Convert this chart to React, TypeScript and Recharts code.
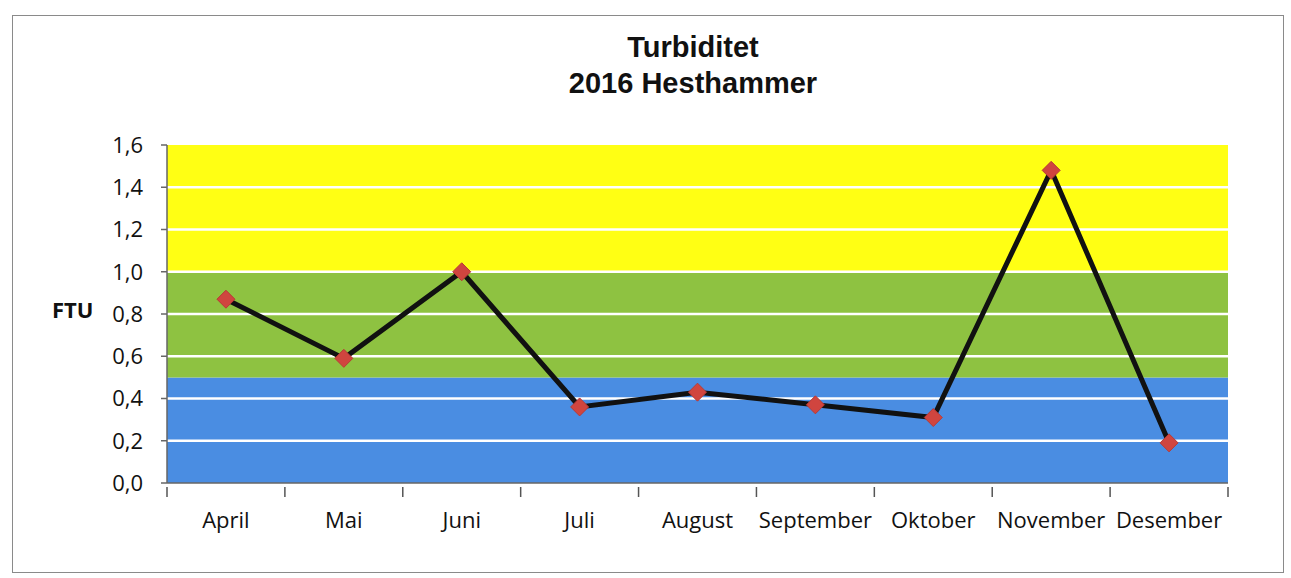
import React from "react";
import {
  LineChart,
  Line,
  XAxis,
  YAxis,
  ReferenceArea,
  ReferenceLine,
} from "recharts";

const months = ["April", "Mai", "Juni", "Juli", "August", "September", "Oktober", "November", "Desember"];
const ftu = [0.87, 0.59, 1.0, 0.36, 0.43, 0.37, 0.31, 1.48, 0.19];
const yTicks = [0, 0.2, 0.4, 0.6, 0.8, 1.0, 1.2, 1.4, 1.6];
const gridValues = [0.2, 0.4, 0.6, 0.8, 1.0, 1.2, 1.4];
const bands = [
  { from: 0, to: 0.5, color: "#4A8DE2" },
  { from: 0.5, to: 1.0, color: "#8EC241" },
  { from: 1.0, to: 1.6, color: "#FFFF14" },
];

const data = months.map((m, i) => ({ month: m, value: ftu[i] }));

const W = 1291;
const H = 578;
const M = { top: 145, right: 63, bottom: 55, left: 100 };
const YW = 67;
const plotW = W - M.left - YW - M.right;
const step = plotW / months.length;
const FONT = "'Open Sans', 'Noto Sans', sans-serif";

const Diamond = (props: any) => {
  const { cx, cy, index } = props;
  if (cx == null || cy == null) return null;
  const r = 9;
  return (
    <path
      key={"d" + index}
      d={`M${cx},${cy - r}L${cx + r},${cy}L${cx},${cy + r}L${cx - r},${cy}Z`}
      fill="#D0453F"
      stroke="#B83A35"
      strokeWidth={1}
    />
  );
};

const XTick = (props: any) => {
  const { x, y, payload, index } = props;
  const left = x - step / 2;
  return (
    <g>
      <line x1={left} y1={y - 4} x2={left} y2={y + 6} stroke="#555" strokeWidth={1.5} />
      {index === months.length - 1 && (
        <line x1={x + step / 2} y1={y - 4} x2={x + step / 2} y2={y + 6} stroke="#555" strokeWidth={1.5} />
      )}
      <text x={x} y={y + 37} textAnchor="middle" fontFamily={FONT} fontSize={22} fill="#111">
        {payload.value}
      </text>
    </g>
  );
};

export default function App() {
  return (
    <div style={{ position: "absolute", left: 0, top: 0, width: W, height: H, background: "#fff" }}>
      <div
        style={{
          position: "absolute",
          left: 12,
          top: 15,
          width: 1272,
          height: 558,
          border: "1.5px solid #8a8a8a",
          boxSizing: "border-box",
        }}
      />
      <div
        style={{
          position: "absolute",
          left: 0,
          top: 29,
          width: 1386,
          textAlign: "center",
          fontFamily: "'Liberation Sans', Arial, sans-serif",
          fontWeight: "bold",
          fontSize: 29,
          lineHeight: "36px",
          color: "#111",
        }}
      >
        Turbiditet
        <br />
        2016 Hesthammer
      </div>
      <div
        style={{
          position: "absolute",
          left: 52,
          top: 294,
          fontFamily: FONT,
          fontWeight: "bold",
          fontSize: 22,
          color: "#111",
        }}
      >
        FTU
      </div>
      <div style={{ position: "absolute", left: 0, top: 0 }}>
        <LineChart width={W} height={H} data={data} margin={M}>
          {bands.map((b, i) => (
            <ReferenceArea
              key={"b" + i}
              y1={b.from}
              y2={b.to}
              fill={b.color}
              fillOpacity={1}
              stroke="none"
              ifOverflow="visible"
            />
          ))}
          {gridValues.map((v) => (
            <ReferenceLine key={"g" + v} y={v} stroke="#ffffff" strokeWidth={2.5} />
          ))}
          <XAxis
            dataKey="month"
            scale="band"
            height={40}
            tickLine={false}
            axisLine={{ stroke: "#666", strokeWidth: 1.5 }}
            tick={<XTick />}
            interval={0}
          />
          <YAxis
            width={YW}
            domain={[0, 1.6]}
            ticks={yTicks}
            tickFormatter={(v: number) => v.toFixed(1).replace(".", ",")}
            axisLine={{ stroke: "#666", strokeWidth: 1.5 }}
            tickLine={{ stroke: "#666", strokeWidth: 1.5 }}
            tickSize={6}
            tickMargin={18}
            tick={{ fontFamily: FONT, fontSize: 22, fill: "#111" }}
          />
          <Line
            dataKey="value"
            stroke="#111"
            strokeWidth={5}
            dot={<Diamond />}
            activeDot={false}
            isAnimationActive={false}
          />
        </LineChart>
      </div>
    </div>
  );
}
